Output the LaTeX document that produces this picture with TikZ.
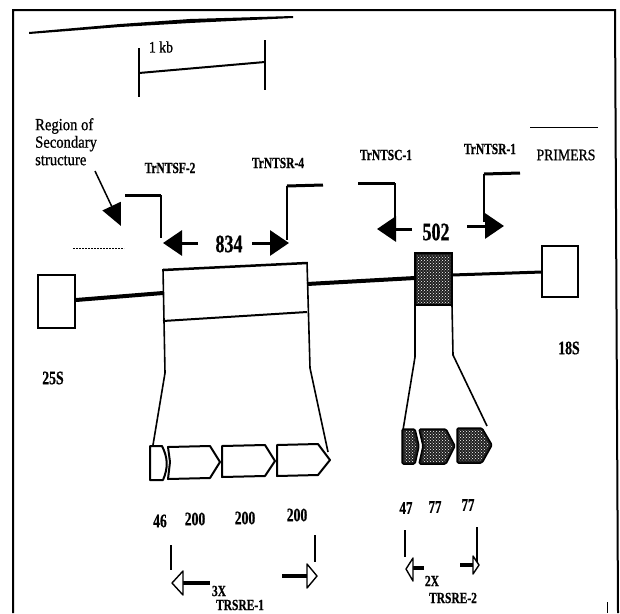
\documentclass[tikz,border=0pt]{standalone}
\usepackage{fontspec}
\setmainfont{Liberation Serif}
\newfontfamily\condfont[FakeStretch=0.74,FakeBold=0.6]{Liberation Serif}
\newfontfamily\numfont[FakeStretch=0.72,FakeBold=0.6]{Liberation Serif}
\newfontfamily\regfont[FakeStretch=0.86,FakeBold=0.8]{Liberation Serif}
\usetikzlibrary{arrows.meta,patterns}
\tikzset{
  lbl/.style={inner sep=0pt,font=\condfont\bfseries\fontsize{15.5}{15.5}\selectfont},
  num/.style={inner sep=0pt,font=\numfont\bfseries\fontsize{19}{19}\selectfont},
  big/.style={inner sep=0pt,font=\numfont\bfseries\fontsize{25}{25}\selectfont},
  thickln/.style={line width=3pt},
  thinln/.style={line width=1.1pt},
  boxln/.style={line width=2pt},
  primerarrow/.style={line width=3pt,-{Triangle[length=19pt,width=25pt]}},
  whiteseg/.style={draw,line width=2pt,fill=white,line join=round},
  dotseg/.style={draw,line width=1.5pt,fill=black!88,line join=round,rounded corners=1.5pt},
  dotover/.style={pattern=crosshatch dots,pattern color=white},
  openhead/.style={draw,line width=1.4pt,fill=white,line join=round},
}
\begin{document}
\begin{tikzpicture}[x=1pt,y=-1pt]
\useasboundingbox (0,0) rectangle (620,613);
% frame
\draw[line width=2pt] (13,613) -- (13,10) -- (615,10) -- (618,613);
\draw[line width=1pt] (607,602) -- (607,613);
% top wedge
\fill (29,32) -- (120,24) -- (190,19) -- (293,16) -- (293,18) -- (190,23) -- (120,27) -- (29,34) -- cycle;
% scale bar
\draw[line width=1.3pt] (139,48) -- (139,97);
\draw[line width=1.3pt] (265,40) -- (265,90);
\draw[line width=2pt] (139,73) -- (265,62);
\node[inner sep=0pt,font=\regfont\fontsize{16}{16}\selectfont] (kb) at (161,47) {1 kb};
% region of secondary structure
\node[inner sep=0pt,font=\regfont\fontsize{17}{17.5}\selectfont,align=left,anchor=north west] (region) at (35,118) {Region of\\Secondary\\structure};
\coordinate (rs) at (95,171);
\coordinate (rt) at (121,226);
\draw[line width=1.5pt,-{Triangle[length=22pt,width=20pt]}] (rs) -- (rt);
\draw[line width=1pt,dash pattern=on 2pt off 1pt] (73,248) -- (124,248);
% primer labels
\node[lbl] (f2) at (170,168) {TrNTSF-2};
\node[lbl] (r4) at (278,163) {TrNTSR-4};
\node[lbl] (c1) at (386,155) {TrNTSC-1};
\node[lbl] (r1) at (490,149) {TrNTSR-1};
\node[inner sep=0pt,font=\regfont\fontsize{16}{16}\selectfont] (primers) at (566,155) {PRIMERS};
\draw[line width=1pt] (530,127) -- (598,127);
% primer TrNTSF-2
\draw[thickln] (125,195) -- (161,195);
\draw[thinln] (161,195) -- (161,238);
\coordinate (f2s) at (198,243); \coordinate (f2t) at (163,243);
\draw[primerarrow] (f2s) -- (f2t);
\node[big] (n834) at (229,244) {834};
% primer TrNTSR-4
\draw[thickln] (287,186) -- (323,185);
\draw[thinln] (287,186) -- (287,240);
\coordinate (r4s) at (252,243); \coordinate (r4t) at (289,243);
\draw[primerarrow] (r4s) -- (r4t);
% primer TrNTSC-1
\draw[thickln] (358,183) -- (395,183);
\draw[thinln] (395,183) -- (395,222);
\coordinate (c1s) at (412,229); \coordinate (c1t) at (377,229);
\draw[primerarrow] (c1s) -- (c1t);
\node[big] (n502) at (436,232) {502};
% primer TrNTSR-1
\draw[thickln] (484,174) -- (520,173);
\draw[thinln] (484,174) -- (484,222);
\coordinate (r1s) at (467,226); \coordinate (r1t) at (504,226);
\draw[primerarrow] (r1s) -- (r1t);
% backbone
\draw[boxln] (38,275) rectangle (75,328);
\node[num] (s25) at (53,378) {25S};
\draw[line width=4pt] (76,300) -- (163,293);
\draw[line width=2.5pt] (163,270) -- (307,263);
\draw[line width=2pt] (163,321) -- (307,312);
\draw[line width=1.6pt] (163,269) -- (165,373) -- (153,445);
\draw[line width=1.6pt] (307,262) -- (310,368) -- (328,452);
\draw[line width=4pt] (307,284) -- (415,278);
\filldraw[draw=black,line width=1.5pt,fill=black!88] (415,253) rectangle (452,305);
\fill[dotover] (417,255) rectangle (450,303);
\draw[line width=3pt] (452,275) -- (542,272);
\draw[line width=1.6pt] (415,305) -- (415,357) -- (403,430);
\draw[line width=1.6pt] (452,305) -- (453,355) -- (487,426);
\draw[boxln] (542,246) rectangle (578,297);
\node[num] (s18) at (569,348) {18S};
% white segments (834)
\draw[whiteseg] (150,446) -- (162,446) to[bend left=25] (163,480) -- (150,480) -- cycle;
\draw[whiteseg] (168,447) -- (210,446) -- (220,462) -- (210,478) -- (168,479) -- (170,462) -- cycle;
\draw[whiteseg] (222,446) -- (265,445) -- (275,461) -- (265,476) -- (222,477) -- cycle;
\draw[whiteseg] (277,445) -- (318,444) -- (330,460) -- (318,475) -- (277,476) -- cycle;
% dotted segments (502)
\draw[dotseg] (402,429) -- (415,429) -- (419,446) -- (415,464) -- (402,464) -- cycle;
\fill[dotover] (404,431) -- (413,431) -- (416,446) -- (413,462) -- (404,462) -- cycle;
\draw[dotseg] (419,429) -- (446,429) -- (455,446) -- (446,464) -- (419,464) -- (423,446) -- cycle;
\fill[dotover] (422,431) -- (445,431) -- (452,446) -- (445,462) -- (422,462) -- (425,446) -- cycle;
\draw[dotseg] (457,428) -- (482,428) -- (492,445) -- (482,463) -- (457,463) -- cycle;
\fill[dotover] (459,430) -- (481,430) -- (489,445) -- (481,461) -- (459,461) -- cycle;
% numbers
\node[num] (a46) at (160,521) {46};
\node[num] (a200a) at (195,519) {200};
\node[num] (a200b) at (245,518) {200};
\node[num] (a200c) at (297,515) {200};
\node[num,font=\numfont\bfseries\fontsize{18}{18}\selectfont] (a47) at (406,508) {47};
\node[num,font=\numfont\bfseries\fontsize{18}{18}\selectfont] (a77a) at (435,507) {77};
\node[num,font=\numfont\bfseries\fontsize{18}{18}\selectfont] (a77b) at (468,505) {77};
% TRSRE-1
\draw[line width=1.3pt] (171,545) -- (171,570);
\draw[line width=4pt] (210,583) -- (182,583);
\draw[openhead] (172,583) -- (183,571) -- (183,595) -- cycle;
\draw[line width=1.3pt] (315,535) -- (315,562);
\draw[line width=4pt] (282,576) -- (307,576);
\draw[openhead] (317,576) -- (307,564) -- (307,588) -- cycle;
\node[lbl] (x3) at (219,591) {3X};
\node[lbl] (t1) at (240,605) {TRSRE-1};
% TRSRE-2
\draw[line width=1.3pt] (405,530) -- (405,557);
\draw[line width=4pt] (424,568) -- (412,568);
\draw[openhead] (406,569) -- (413,558) -- (413,581) -- cycle;
\draw[line width=1.3pt] (477,527) -- (477,563);
\draw[line width=4pt] (460,565) -- (473,565);
\draw[openhead] (479,565) -- (473,556) -- (473,574) -- cycle;
\node[lbl] (x2) at (432,581) {2X};
\node[lbl] (t2) at (453,598) {TRSRE-2};
\end{tikzpicture}
\end{document}
